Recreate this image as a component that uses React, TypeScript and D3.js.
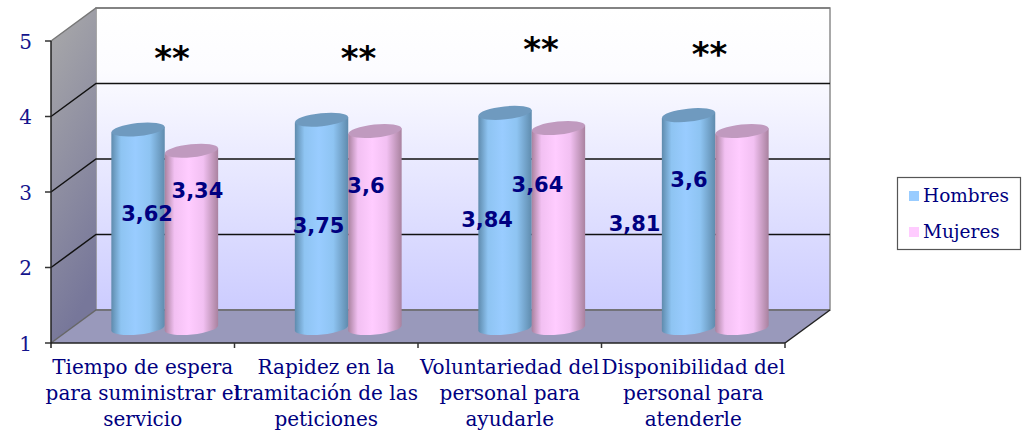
import React from "react";
import * as d3 from "d3";

const categoryLines = [
  ["Tiempo de espera", "para suministrar el", "servicio"],
  ["Rapidez en la", "tramitación de las", "peticiones"],
  ["Voluntariedad del", "personal para", "ayudarle"],
  ["Disponibilidad del", "personal para", "atenderle"],
];
const hombres = [3.62, 3.75, 3.84, 3.81];
const mujeres = [3.34, 3.6, 3.64, 3.6];
const hombresLabels = ["3,62", "3,75", "3,84", "3,81"];
const mujeresLabels = ["3,34", "3,6", "3,64", "3,6"];
const axisTicks = [1, 2, 3, 4, 5];
const stars = ["**", "**", "**", "**"];

// hand-placed offsets, as in the original chart
const hombresLabelOffset = [[9, -15], [-3, 2], [-18, 0], [-54, 2]];
const mujeresLabelOffset = [[6, 7], [-9, 11], [-21, 12], [-53, 5]];
const starOffset = [[0, 0], [3, 0], [2, -9], [-13, -4]];

const W = 1025, H = 431;
const depthX = 45, depthY = -33;
const frontY = d3.scaleLinear().domain([1, 5]).range([343, 41]);
const backY = (v: number) => frontY(v) + depthY;
const barY = d3.scaleLinear().domain([1, 5]).range([328, 25]);
const x0 = d3.scaleBand<number>().domain([0, 1, 2, 3]).range([51, 785]);
const RY = 6.5;
const TILT = 2.8;
const ink = "#000080";
const serif = "'DejaVu Serif', serif";

function cylinderPath(cx: number, rx: number, top: number, bottom: number) {
  const rot = (-Math.atan2(TILT, rx) * 180) / Math.PI;
  return `M${cx - rx},${top + TILT}L${cx - rx},${bottom + TILT}A${rx},${RY} ${rot} 0 0 ${cx + rx},${bottom - TILT}L${cx + rx},${top - TILT}Z`;
}

function Stops({ dark, mid, light }: { dark: string; mid: string; light: string }) {
  return (
    <>
      <stop offset="0" stopColor={dark} />
      <stop offset="0.18" stopColor={mid} />
      <stop offset="0.45" stopColor={light} />
      <stop offset="0.72" stopColor={mid} />
      <stop offset="1" stopColor={dark} />
    </>
  );
}

export default function App() {
  const rx = 26.7;
  const rot = (-Math.atan2(TILT, rx) * 180) / Math.PI;
  const bw = x0.bandwidth();
  const left = x0(0)!, right = x0.range()[1];
  const cxH = (i: number) => x0(i)! + bw * 0.3 + 32;
  const cxM = (i: number) => cxH(i) + 53.4;
  const series = [
    { values: hombres, cx: cxH, fill: "url(#gH)", top: "#6f9abf" },
    { values: mujeres, cx: cxM, fill: "url(#gM)", top: "#c09abf" },
  ];
  return (
    <svg width={W} height={H} style={{ position: "absolute", left: 0, top: 0, background: "#fff" }}>
      <defs>
        <linearGradient id="wall" x1="0" y1="0" x2="0" y2="1">
          <stop offset="0" stopColor="#ffffff" />
          <stop offset="0.2" stopColor="#fcfcff" />
          <stop offset="1" stopColor="#ccccff" />
        </linearGradient>
        <linearGradient id="side" x1="0" y1="0" x2="0.25" y2="1">
          <stop offset="0" stopColor="#aaaaaa" />
          <stop offset="1" stopColor="#77779a" />
        </linearGradient>
        <linearGradient id="gH" x1="0" y1="0" x2="1" y2="0">
          <Stops dark="#5f8bad" mid="#8ec4f2" light="#99ccff" />
        </linearGradient>
        <linearGradient id="gM" x1="0" y1="0" x2="1" y2="0">
          <Stops dark="#a9829f" mid="#f2c0f2" light="#ffccff" />
        </linearGradient>
      </defs>

      <rect x={left + depthX} y={backY(5)} width={right - left} height={backY(1) - backY(5)}
        fill="url(#wall)" stroke="#8c8c8c" strokeWidth={1.5} />
      <polygon
        points={`${left},${frontY(1)} ${left + depthX},${backY(1)} ${left + depthX},${backY(5)} ${left},${frontY(5)}`}
        fill="url(#side)" />
      <polygon
        points={`${left},${frontY(1)} ${left + depthX},${backY(1)} ${right + depthX},${backY(1)} ${right},${frontY(1)}`}
        fill="#9999bb" />

      {axisTicks.map((t) => (
        <g key={t}>
          <polyline
            points={`${left},${frontY(t)} ${left + depthX},${backY(t)} ${right + depthX},${backY(t)}`}
            fill="none" stroke={t === 1 ? "#666666" : t === 5 ? "#777777" : "#111111"} strokeWidth={1.5} />
          <line x1={left - 6} x2={left} y1={frontY(t)} y2={frontY(t)} stroke="#333" strokeWidth={1.5} />
          <text x={32} y={frontY(t) + 7.5} textAnchor="end" fontFamily={serif} fontSize={20} fill="#14148c">{t}</text>
        </g>
      ))}
      <line x1={left} x2={left} y1={frontY(5)} y2={frontY(1) + 5} stroke="#222" strokeWidth={1.5} />
      <line x1={left} x2={right} y1={frontY(1)} y2={frontY(1)} stroke="#222" strokeWidth={1.5} />
      <line x1={right} x2={right + depthX} y1={frontY(1)} y2={backY(1)} stroke="#222" strokeWidth={1.5} />
      {[1, 2, 3, 4].map((i) => (
        <line key={i} x1={left + bw * i} x2={left + bw * i} y1={frontY(1)} y2={frontY(1) + 5} stroke="#333" strokeWidth={1.5} />
      ))}

      {series.map((s, si) =>
        s.values.map((v, i) => (
          <g key={`${si}-${i}`}>
            <path d={cylinderPath(s.cx(i), rx, barY(v), barY(1))} fill={s.fill} />
            <ellipse cx={s.cx(i)} cy={barY(v)} rx={rx} ry={RY} fill={s.top}
              transform={`rotate(${rot} ${s.cx(i)} ${barY(v)})`} />
          </g>
        ))
      )}

      {hombres.map((v, i) => (
        <text key={i} x={cxH(i) + hombresLabelOffset[i][0]} y={(barY(v) + barY(1)) / 2 + hombresLabelOffset[i][1] + 7}
          textAnchor="middle" fontFamily="'DejaVu Sans', sans-serif" fontWeight="bold" fontSize={21} fill={ink}>{hombresLabels[i]}</text>
      ))}
      {mujeres.map((v, i) => (
        <text key={i} x={cxM(i) + mujeresLabelOffset[i][0]} y={(barY(v) + barY(1)) / 2 + mujeresLabelOffset[i][1] - 48}
          textAnchor="middle" fontFamily="'DejaVu Sans', sans-serif" fontWeight="bold" fontSize={21} fill={ink}>{mujeresLabels[i]}</text>
      ))}

      {stars.map((s, i) => (
        <text key={i} x={x0(i)! + bw * 0.66 + starOffset[i][0]} y={70 + starOffset[i][1]} textAnchor="middle"
          fontFamily="'DejaVu Sans', sans-serif" fontWeight="bold" fontSize={34} fill="#000">{s}</text>
      ))}

      {categoryLines.map((lines, i) =>
        lines.map((l, j) => (
          <text key={j} x={x0(i)! + bw / 2} y={374 + j * 26} textAnchor="middle" fontFamily={serif} fontSize={20} fill={ink}>{l}</text>
        ))
      )}

      <rect x={897.5} y={177.5} width={123} height={72} fill="#fff" stroke="#555" strokeWidth={1.2} />
      <rect x={909} y={191} width={10} height={10} fill="#99ccff" />
      <rect x={909} y={227} width={10} height={10} fill="#ffccff" />
      <text x={923} y={202} fontFamily={serif} fontSize={18.5} fill={ink}>Hombres</text>
      <text x={923} y={238} fontFamily={serif} fontSize={18.5} fill={ink}>Mujeres</text>
    </svg>
  );
}
